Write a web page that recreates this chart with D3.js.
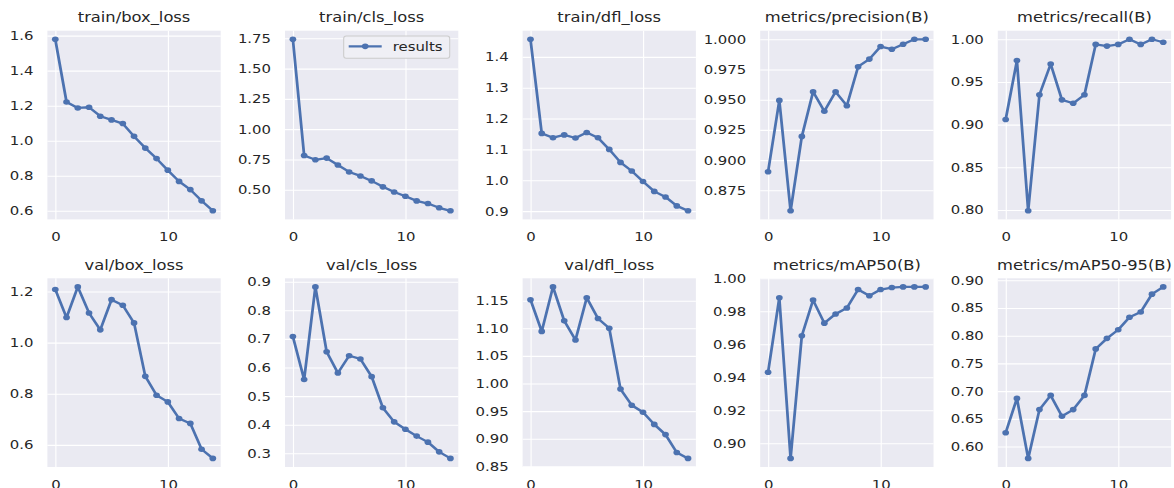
<!DOCTYPE html>
<html>
<head>
<meta charset="utf-8">
<script src="https://cdn.jsdelivr.net/npm/d3@7"></script>
<style>
  html, body { margin: 0; padding: 0; background: #ffffff; }
  svg { display: block; }
</style>
</head>
<body>
<div id="chart"></div>
<script>
// ---------------- data ----------------
const epochs = [0, 1, 2, 3, 4, 5, 6, 7, 8, 9, 10, 11, 12, 13, 14];

const titles = [
  "train/box_loss", "train/cls_loss", "train/dfl_loss", "metrics/precision(B)", "metrics/recall(B)",
  "val/box_loss", "val/cls_loss", "val/dfl_loss", "metrics/mAP50(B)", "metrics/mAP50-95(B)"
];

const trainBoxLoss = [1.579, 1.221, 1.187, 1.191, 1.140, 1.119, 1.098, 1.025, 0.958, 0.898, 0.832, 0.768, 0.721, 0.657, 0.600];
const trainClsLoss = [1.742, 0.783, 0.747, 0.761, 0.704, 0.647, 0.614, 0.573, 0.524, 0.481, 0.446, 0.408, 0.386, 0.351, 0.326];
const trainDflLoss = [1.457, 1.152, 1.138, 1.147, 1.137, 1.155, 1.138, 1.100, 1.058, 1.030, 0.996, 0.964, 0.946, 0.917, 0.901];
const precisionB   = [0.8903, 0.9494, 0.858, 0.9196, 0.9565, 0.9404, 0.9565, 0.945, 0.9773, 0.9836, 0.994, 0.9918, 0.9959, 1.0, 1.0];
const recallB      = [0.906, 0.975, 0.799, 0.935, 0.971, 0.929, 0.925, 0.935, 0.994, 0.992, 0.994, 1.0, 0.994, 1.0, 0.9965];
const valBoxLoss   = [1.208, 1.098, 1.218, 1.116, 1.050, 1.168, 1.146, 1.077, 0.868, 0.794, 0.768, 0.703, 0.684, 0.583, 0.547];
const valClsLoss   = [0.7085, 0.558, 0.882, 0.655, 0.581, 0.641, 0.630, 0.568, 0.459, 0.410, 0.384, 0.360, 0.339, 0.305, 0.282];
const valDflLoss   = [1.1518, 1.0944, 1.175, 1.1135, 1.0787, 1.1554, 1.1177, 1.100, 0.990, 0.9607, 0.948, 0.926, 0.9075, 0.8751, 0.8644];
const mAP50B       = [0.943, 0.9882, 0.8908, 0.9652, 0.9868, 0.9728, 0.9784, 0.982, 0.9932, 0.9894, 0.9932, 0.9944, 0.9948, 0.9948, 0.9948];
const mAP5095B     = [0.625, 0.6869, 0.5786, 0.6667, 0.6923, 0.6548, 0.6667, 0.6923, 0.7762, 0.7952, 0.8107, 0.8333, 0.8429, 0.875, 0.8881];

const xTickValues = [0, 10];
const yTicksTrainBox  = [0.6, 0.8, 1.0, 1.2, 1.4, 1.6];
const yTicksTrainCls  = [0.50, 0.75, 1.00, 1.25, 1.50, 1.75];
const yTicksTrainDfl  = [0.9, 1.0, 1.1, 1.2, 1.3, 1.4];
const yTicksPrecision = [0.875, 0.900, 0.925, 0.950, 0.975, 1.000];
const yTicksRecall    = [0.80, 0.85, 0.90, 0.95, 1.00];
const yTicksValBox    = [0.6, 0.8, 1.0, 1.2];
const yTicksValCls    = [0.3, 0.4, 0.5, 0.6, 0.7, 0.8, 0.9];
const yTicksValDfl    = [0.85, 0.90, 0.95, 1.00, 1.05, 1.10, 1.15];
const yTicksMAP50     = [0.90, 0.92, 0.94, 0.96, 0.98, 1.00];
const yTicksMAP5095   = [0.60, 0.65, 0.70, 0.75, 0.80, 0.85, 0.90];

const yFormats = [".1f", ".2f", ".1f", ".3f", ".2f", ".1f", ".1f", ".2f", ".2f", ".2f"];
const legendLabel = "results";

// -------------- layout / style --------------
const W = 1174, H = 488;
const SX = 1.2;              // horizontal stretch of the original picture
const BG = "#EAEAF2", LINE = "#4C72B0", TEXT = "#262626";
const FONT = "DejaVu Sans, sans-serif";
const colLeft = c => 47.4 + 237.6 * c;   // outer px
const plotW = 173.3;
const rowTop = [30.7, 278.3];
const plotH = 188.7;

const seriesList = [trainBoxLoss, trainClsLoss, trainDflLoss, precisionB, recallB,
                    valBoxLoss, valClsLoss, valDflLoss, mAP50B, mAP5095B];
const yTickList = [yTicksTrainBox, yTicksTrainCls, yTicksTrainDfl, yTicksPrecision, yTicksRecall,
                   yTicksValBox, yTicksValCls, yTicksValDfl, yTicksMAP50, yTicksMAP5095];

const svg = d3.select("#chart").append("svg").attr("width", W).attr("height", H)
  .style("font-family", FONT);
const root = svg.append("g").attr("transform", `scale(${SX},1)`);

seriesList.forEach((vals, i) => {
  const r = Math.floor(i / 5), c = i % 5;
  const left = colLeft(c) / SX, width = plotW / SX;
  const top = rowTop[r], height = plotH;

  const x = d3.scaleLinear().domain([-0.7, 14.7]).range([left, left + width]);
  const [mn, mx] = d3.extent(vals);
  const m = (mx - mn) * 0.05;
  const y = d3.scaleLinear().domain([mn - m, mx + m]).range([top + height, top]);
  const yd = y.domain();

  const g = root.append("g");
  g.append("rect").attr("x", left).attr("y", top).attr("width", width).attr("height", height).attr("fill", BG);

  // y axis (grid + labels)
  const yt = yTickList[i].filter(v => v >= yd[0] - 1e-9 && v <= yd[1] + 1e-9);
  const ya = g.append("g").attr("transform", `translate(${left},0)`)
    .call(d3.axisLeft(y).tickValues(yt).tickFormat(d3.format(yFormats[i]))
      .tickSize(-width).tickPadding(14 / SX));
  ya.select(".domain").remove();
  ya.selectAll("line").attr("stroke", "#ffffff").attr("stroke-width", 1.1);
  ya.selectAll("text").attr("fill", TEXT).style("font-size", "12.4px").style("font-family", FONT);

  // x axis (grid + labels)
  const xa = g.append("g").attr("transform", `translate(0,${top + height})`)
    .call(d3.axisBottom(x).tickValues(xTickValues).tickFormat(d3.format("d"))
      .tickSize(-height).tickPadding(13));
  xa.select(".domain").remove();
  xa.selectAll("line").attr("stroke", "#ffffff").attr("stroke-width", 0.95);
  xa.selectAll("text").attr("fill", TEXT).style("font-size", "12.4px").style("font-family", FONT);

  // line + markers
  const line = d3.line().x((d, k) => x(epochs[k])).y(d => y(d));
  g.append("path").datum(vals).attr("d", line).attr("fill", "none")
    .attr("stroke", LINE).attr("stroke-width", 2.3).attr("stroke-linejoin", "round");
  g.selectAll("circle.pt").data(vals).enter().append("circle").attr("class", "pt")
    .attr("cx", (d, k) => x(epochs[k])).attr("cy", d => y(d)).attr("r", 2.8).attr("fill", LINE);

  // title
  g.append("text").attr("x", left + width / 2).attr("y", top - 8.7)
    .attr("text-anchor", "middle").attr("fill", TEXT).style("font-size", "13.6px").text(titles[i]);

  // legend in second panel
  if (i === 1) {
    const bw = 106 / SX, bh = 22.3;
    const bx = left + width - 8.6 / SX - bw, by = top + 5.3;
    const lg = g.append("g");
    lg.append("rect").attr("x", bx).attr("y", by).attr("width", bw).attr("height", bh)
      .attr("rx", 2.5 / SX).attr("ry", 2.5).attr("fill", "#EFEFF5").attr("fill-opacity", 0.9)
      .attr("stroke", "#CCCCCC").attr("stroke-width", 0.9);
    const ly = by + bh / 2 - 0.8;
    lg.append("line").attr("x1", bx + 5 / SX).attr("x2", bx + 38 / SX).attr("y1", ly).attr("y2", ly)
      .attr("stroke", LINE).attr("stroke-width", 2.3);
    lg.append("circle").attr("cx", bx + 21.5 / SX).attr("cy", ly).attr("r", 2.8).attr("fill", LINE);
    lg.append("text").attr("x", bx + 49 / SX).attr("y", ly).attr("dy", "0.35em")
      .attr("fill", TEXT).style("font-size", "12.4px").text(legendLabel);
  }
});
</script>
</body>
</html>
